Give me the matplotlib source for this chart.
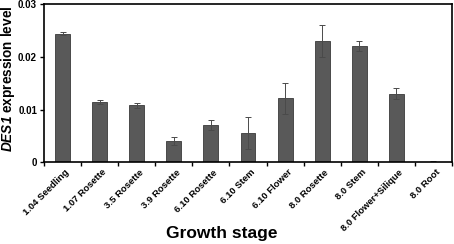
import numpy as np
import matplotlib
matplotlib.use("Agg")
import matplotlib.pyplot as plt

stages = ["1.04 Seedling", "1.07 Rosette", "3.5 Rosette", "3.9 Rosette",
          "6.10 Rosette", "6.10 Stem", "6.10 Flower", "8.0 Rosette",
          "8.0 Stem", "8.0 Flower+Silique", "8.0 Root"]
expression = [0.0244, 0.0114, 0.0108, 0.0040, 0.0071, 0.0056,
              0.0121, 0.0230, 0.0220, 0.0130, 0.0001]
errors = [0.0003, 0.0004, 0.0005, 0.0008, 0.0010, 0.0030,
          0.0030, 0.0030, 0.0010, 0.0010, 0.0002]
yticks = [0, 0.01, 0.02, 0.03]
ytick_labels = ["0", "0.01", "0.02", "0.03"]

plt.rcParams['font.family'] = ['Liberation Sans', 'DejaVu Sans']
plt.rcParams['mathtext.fontset'] = 'custom'
plt.rcParams['mathtext.bfit'] = 'Liberation Sans:italic:bold'
plt.rcParams['mathtext.rm'] = 'Liberation Sans:bold'

fig = plt.figure(figsize=(4.54, 2.44), dpi=100)
ax = fig.add_axes([44 / 454, 1 - 162.3 / 244, 408 / 454, 158.3 / 244])

x = np.arange(len(stages))
ax.bar(x, expression, width=0.4, color='#595959', edgecolor='#3a3a3a', linewidth=0.6)
ax.errorbar(x, expression, yerr=errors, fmt='none', ecolor='#4a4a4a',
            elinewidth=0.7, capsize=2, capthick=0.7)

ax.set_xlim(-0.5, len(stages) - 0.5)
ax.set_ylim(0, 0.03)
ax.set_yticks(yticks)
ax.set_yticklabels(ytick_labels, fontsize=7, fontweight='bold')
ax.set_xticks(x + 0.06)
ax.set_xticklabels(stages, rotation=45, ha='right', rotation_mode='anchor',
                   fontsize=6.8, fontweight='bold')
ax.tick_params(axis='x', which='major', length=0, pad=4)
ax.set_xticks(np.arange(-0.5, len(stages), 1), minor=True)
ax.tick_params(axis='x', which='minor', length=3, width=1, direction='out')
ax.tick_params(axis='y', length=3, width=1, direction='out', pad=2)

for s in ax.spines.values():
    s.set_linewidth(1.2)

fig.text(8 / 454, 1 - 78.5 / 244, r'$\mathbfit{DES1}$ expression level',
         rotation=90, ha='center', va='center', fontsize=9.8, fontweight='bold')
fig.text(222 / 454, 1 - 238 / 244, 'Growth stage', ha='center', va='baseline',
         fontsize=12.5, fontweight='bold')

fig.savefig('out.png', dpi=100)
